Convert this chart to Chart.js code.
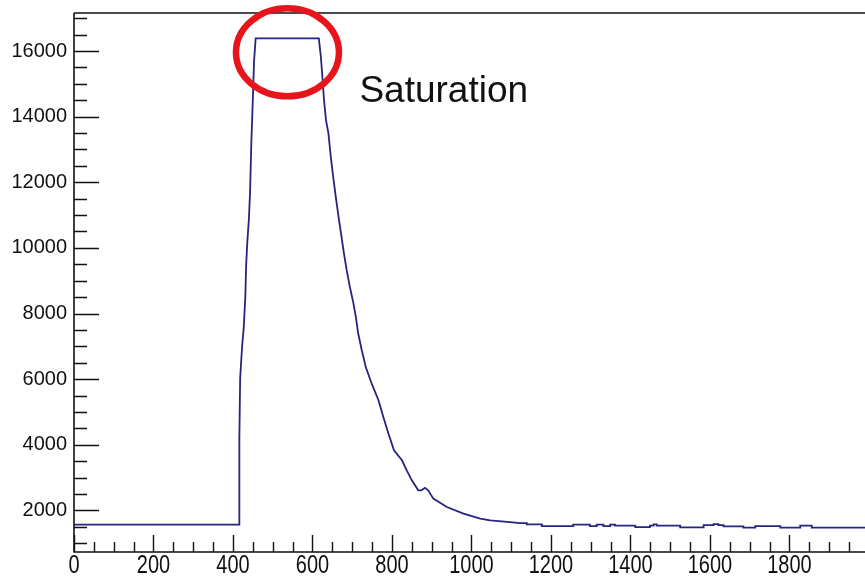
<!DOCTYPE html>
<html>
<head>
<meta charset="utf-8">
<script src="https://cdn.jsdelivr.net/npm/chart.js@4.4.1/dist/chart.umd.min.js"></script>
<style>
  html, body { margin: 0; padding: 0; background: #fff; overflow: hidden; }
  #wrap { position: relative; width: 865px; height: 577px; }
</style>
</head>
<body>
<div id="wrap"><canvas id="pulseChart"></canvas></div>
<script>
// sample time (x) and ADC counts (y)
const sampleTime = [
  0, 416, 416, 418, 423, 427, 431, 433, 436, 440, 443, 446, 450, 453, 457,
  616, 621, 624, 629, 634, 640, 646, 652, 659, 666, 672, 679, 686, 694, 703,
  709, 715, 724, 734, 749, 766, 778, 791, 805, 825, 837, 850, 866, 874, 883,
  891, 904, 938, 980, 1022, 1047, 1097, 1122, 1139, 1139, 1177, 1177, 1256, 1256, 1298,
  1298, 1315, 1315, 1332, 1332, 1349, 1349, 1361, 1361, 1412, 1412, 1449, 1449, 1458, 1458,
  1466, 1466, 1525, 1525, 1584, 1584, 1609, 1609, 1621, 1621, 1634, 1634, 1684, 1684, 1714,
  1714, 1777, 1777, 1827, 1827, 1856, 1856, 1990
];
const adcCounts = [
  1564, 1564, 4200, 6020, 7010, 7570, 8500, 9450, 10170, 10880, 11710, 13150, 14560, 15700, 16384,
  16384, 15826, 15370, 14505, 13895, 13500, 12780, 12170, 11520, 10910, 10420, 9840, 9320, 8810, 8310,
  7900, 7390, 6880, 6370, 5860, 5355, 4850, 4340, 3830, 3525, 3220, 2915, 2610, 2610, 2686,
  2610, 2357, 2100, 1900, 1747, 1695, 1643, 1613, 1613, 1573, 1573, 1521, 1521, 1564, 1564,
  1521, 1521, 1564, 1564, 1521, 1521, 1564, 1564, 1533, 1533, 1491, 1491, 1533, 1533, 1573,
  1573, 1533, 1533, 1480, 1480, 1552, 1552, 1582, 1582, 1552, 1552, 1512, 1512, 1472, 1472,
  1521, 1521, 1472, 1472, 1533, 1533, 1472, 1472
];
const xTickLabels = [0, 200, 400, 600, 800, 1000, 1200, 1400, 1600, 1800];
const yTickLabels = [2000, 4000, 6000, 8000, 10000, 12000, 14000, 16000];
const noteText = "Saturation";

const fontFamily = "'Liberation Sans', Arial, Helvetica, sans-serif";

// ROOT-like frame: ticks inside the frame, squeezed x labels, circled note
const rootStyle = {
  id: 'rootStyle',
  beforeDatasetsDraw(chart) {
    const ctx = chart.ctx;
    const xs = chart.scales.x, ys = chart.scales.y;
    const a = chart.chartArea;
    ctx.save();
    ctx.strokeStyle = '#111';
    ctx.lineWidth = 1.4;
    ctx.beginPath();
    for (let v = 500; v <= ys.max; v += 500) {
      if (v < ys.min) continue;
      const y = Math.round(ys.getPixelForValue(v)) + 0.5;
      const len = v % 2000 === 0 ? 25 : 13;
      ctx.moveTo(a.left, y);
      ctx.lineTo(a.left + len, y);
    }
    for (let v = 0; v <= xs.max; v += 50) {
      const x = Math.round(xs.getPixelForValue(v)) + 0.5;
      const len = v % 200 === 0 ? 17 : 10;
      ctx.moveTo(x, a.bottom);
      ctx.lineTo(x, a.bottom - len);
    }
    ctx.stroke();

    ctx.lineWidth = 1.6;
    ctx.beginPath();
    ctx.moveTo(a.left, a.top);
    ctx.lineTo(a.right, a.top);
    ctx.moveTo(a.left, a.top);
    ctx.lineTo(a.left, a.bottom);
    ctx.lineTo(a.right, a.bottom);
    ctx.stroke();

    ctx.fillStyle = '#111';
    ctx.font = '25px ' + fontFamily;
    ctx.textAlign = 'center';
    ctx.textBaseline = 'middle';
    xTickLabels.forEach(v => {
      ctx.save();
      ctx.translate(xs.getPixelForValue(v), a.bottom + 14);
      ctx.scale(0.8, 1);
      ctx.fillText(String(v), 0, 0);
      ctx.restore();
    });
    ctx.restore();
  },
  afterDraw(chart) {
    const ctx = chart.ctx;
    const xs = chart.scales.x, ys = chart.scales.y;
    ctx.save();
    ctx.strokeStyle = '#e8141c';
    ctx.lineWidth = 6.5;
    ctx.beginPath();
    ctx.ellipse(xs.getPixelForValue(537), ys.getPixelForValue(15962), 51.5, 44, 0, 0, Math.PI * 2);
    ctx.stroke();

    ctx.fillStyle = '#111';
    ctx.font = '37px ' + fontFamily;
    ctx.textAlign = 'left';
    ctx.textBaseline = 'alphabetic';
    ctx.fillText(noteText, xs.getPixelForValue(718), ys.getPixelForValue(14456));
    ctx.restore();
  }
};

const pulseChart = new Chart(document.getElementById('pulseChart'), {
  type: 'line',
  data: {
    datasets: [{
      data: sampleTime.map((t, i) => ({ x: t, y: adcCounts[i] })),
      borderColor: '#25257d',
      borderWidth: 1.8,
      pointRadius: 0,
      fill: false,
      tension: 0
    }]
  },
  options: {
    responsive: true,
    maintainAspectRatio: false,
    animation: false,
    layout: { padding: { top: 13, left: 0, right: 0, bottom: 0 } },
    plugins: { legend: { display: false }, tooltip: { enabled: false } },
    scales: {
      x: {
        type: 'linear',
        min: 0,
        max: 1990,
        grid: { display: false, drawTicks: false },
        border: { display: false },
        ticks: { display: false },
        afterFit: s => { s.height = 25; s.paddingLeft = 0; s.paddingRight = 0; }
      },
      y: {
        type: 'linear',
        min: 730,
        max: 17160,
        grid: { display: false, drawTicks: false },
        border: { display: false },
        afterBuildTicks: s => { s.ticks = yTickLabels.map(v => ({ value: v })); },
        ticks: {
          color: '#111',
          padding: 7,
          font: { family: fontFamily, size: 20 },
          callback: v => String(v)
        },
        afterFit: s => { s.width = 74; s.paddingTop = 0; s.paddingBottom = 0; }
      }
    }
  },
  plugins: [rootStyle]
});
</script>
</body>
</html>
